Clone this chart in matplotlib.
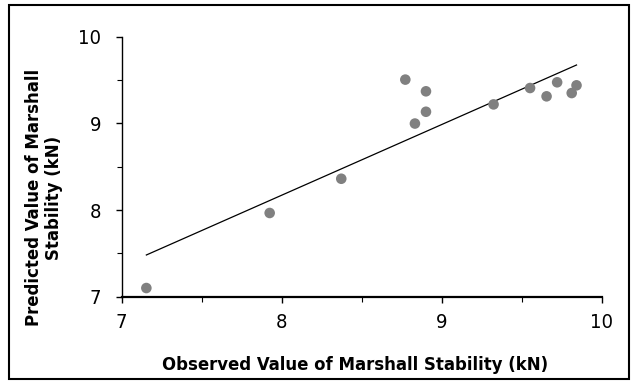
import numpy as np
import matplotlib

matplotlib.use("Agg")
import matplotlib.pyplot as plt
from matplotlib.patches import Rectangle

plt.rcParams["font.family"] = ["DejaVu Sans"]
plt.rcParams["font.stretch"] = "condensed"

# Marshall stability: observed vs model-predicted (kN)
observed = [7.155, 7.925, 8.372, 8.772, 8.832, 8.901, 8.901,
            9.323, 9.551, 9.654, 9.720, 9.811, 9.841]
predicted = [7.10, 7.966, 8.361, 9.505, 8.998, 9.370, 9.134,
             9.219, 9.408, 9.312, 9.474, 9.350, 9.439]

x = np.array(observed)
y = np.array(predicted)

fig = plt.figure(figsize=(6.32, 3.82), dpi=100)
ax = fig.add_axes([0.1923, 0.2233, 0.7602, 0.6806])

ax.scatter(x, y, s=58, color="#808080", edgecolors="none", zorder=3)

# least-squares trend line over the observed range
slope, icpt = np.polyfit(x, y, 1)
xs = np.array([x.min(), x.max()])
ax.plot(xs, slope * xs + icpt, color="black", lw=0.9, zorder=2)

ax.set_xlim(7, 10)
ax.set_ylim(7, 10)
ax.set_xticks([7, 8, 9, 10])
ax.set_yticks([7, 8, 9, 10])
ax.set_xticks([7.5, 8.5, 9.5], minor=True)
ax.set_yticks([7.5, 8.5, 9.5], minor=True)

for s in ("top", "right"):
    ax.spines[s].set_visible(False)
ax.spines["bottom"].set_linewidth(1.6)
ax.spines["left"].set_linewidth(1.0)

ax.tick_params(axis="x", which="major", direction="out", length=4, width=1.0,
               labelsize=14.5, pad=8)
ax.tick_params(axis="x", which="minor", direction="out", length=3.5, width=0.8)
ax.tick_params(axis="y", which="major", direction="out", length=4.5, width=1.0,
               labelsize=14.5, pad=10)
ax.tick_params(axis="y", which="minor", direction="out", length=3.5, width=0.8)

ax.set_xlabel("Observed Value of Marshall Stability (kN)", fontsize=13.2,
              fontweight="bold")
ax.xaxis.set_label_coords(0.487, -0.228)
ax.set_ylabel("Predicted Value of Marshall\nStability (kN)", fontsize=13.2,
              fontweight="bold", linespacing=1.2)
ax.yaxis.set_label_coords(-0.121, 0.38)

# outer frame around the whole chart
fig.patches.append(Rectangle((0.0142, 0.0079), 0.981, 0.979, transform=fig.transFigure,
                             fill=False, edgecolor="black", lw=1.5))

fig.savefig("out.png", dpi=100)
